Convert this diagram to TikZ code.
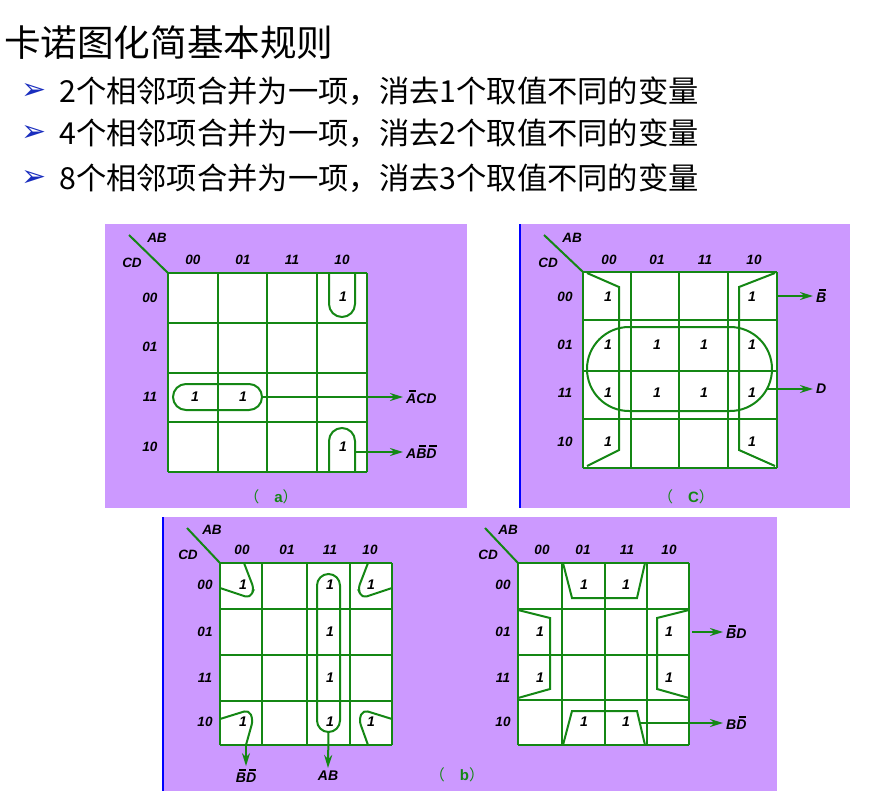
\documentclass[tikz,border=0pt]{standalone}
\usepackage{fontspec}
\setmainfont{Liberation Sans}
\newfontfamily\cjk{Noto Sans CJK SC}
\newfontfamily\bulfont{DejaVu Sans}
\usepackage{tikz}
\usetikzlibrary{arrows.meta}
\definecolor{kgreen}{RGB}{20,135,20}
\definecolor{kpurple}{RGB}{204,153,255}
\definecolor{kblue}{RGB}{25,45,190}
\newcommand{\ovl}[1]{\sbox0{#1}\rlap{\hspace{0.3\wd0}\raisebox{\dimexpr\ht0+2.5pt\relax}{\rule{0.7\wd0}{1.3pt}}}#1}
\tikzset{
	kline/.style={kgreen,line width=2.3pt},
	grp/.style={kgreen,line width=2pt},
	lbl/.style={font=\fontsize{13.5}{15}\selectfont\bfseries\itshape,inner sep=0pt},
	one/.style={font=\fontsize{14}{16}\selectfont\bfseries\itshape,inner sep=0pt},
	res/.style={font=\fontsize{14}{16}\selectfont\bfseries\itshape,inner sep=3pt},
	captext/.style={kgreen,font=\fontsize{15}{17}\selectfont\cjk,inner sep=0pt},
	arr/.style={kgreen,line width=2pt,-{Stealth[length=13pt,width=8pt]}},
	ruletext/.style={font=\fontsize{30.3}{34}\selectfont\cjk,anchor=west,inner sep=0pt},
	bul/.style={kblue,font=\fontsize{30}{32}\selectfont\bulfont,inner sep=0pt}
}
\begin{document}
\begin{tikzpicture}[x=1pt,y=-1pt]
		\useasboundingbox (0,0) rectangle (895,793);
		% title and rules
		\node[font=\fontsize{36.6}{40}\selectfont\cjk,anchor=west,inner sep=0pt] (title) at (4,43) {卡诺图化简基本规则};
		\node[bul] (b1) at (34,91) {➢};
		\node[bul] (b2) at (34,133) {➢};
		\node[bul] (b3) at (34,178) {➢};
		\node[ruletext] (r1) at (59,91) {2个相邻项合并为一项，消去1个取值不同的变量};
		\node[ruletext] (r2) at (59,133) {4个相邻项合并为一项，消去2个取值不同的变量};
		\node[ruletext] (r3) at (59,178) {8个相邻项合并为一项，消去3个取值不同的变量};
		% panels
		\fill[kpurple] (105,224) rectangle (467,508);
		\fill[kpurple] (521,224) rectangle (850,508);
		\fill[kpurple] (164,517) rectangle (777,791);
		\draw[blue,line width=1.5pt] (520,224) -- (520,508);
		\draw[blue,line width=1.5pt] (163,517) -- (163,791);
		% map (a)
		\fill[white] (168,273) rectangle (367,472);
		\foreach \x in {168,218,267,317,367} \draw[kline] (\x,273) -- (\x,472);
		\foreach \y in {273,323,373,422,472} \draw[kline] (168,\y) -- (367,\y);
		\draw[kline,line width=2pt] (129,235) -- (168,273);
		\node[lbl] (aAB) at (157,238) {AB};
		\node[lbl] (aCD) at (132,263) {CD};
		\foreach \x/\t in {193/00,243/01,292/11,342/10} \node[lbl] at (\x,260) {\t};
		\foreach \y/\t in {298/00,347/01,397/11,447/10} \node[lbl] at (150,\y) {\t};
		\node[one] (a1) at (343,297) {1};
		\node[one] (a2) at (195,397) {1};
		\node[one] (a3) at (243,397) {1};
		\node[one] (a4) at (343,447) {1};
		\draw[grp,rounded corners=13pt] (329,273) -- (329,317) -- (355,317) -- (355,273);
		\draw[grp,rounded corners=13pt] (329,472) -- (329,428) -- (355,428) -- (355,472);
		\draw[grp,rounded corners=13pt] (173,384) rectangle (262,410);
		\coordinate (aL1) at (262,397);
		\coordinate (aL2) at (355,452);
		\node[res,anchor=west] (acd) at (403,397) {\ovl{A}CD};
		\node[res,anchor=west] (abd) at (403,452) {A\ovl{B}\ovl{D}};
		\draw[arr] (aL1) -- (acd.west);
		\draw[arr] (aL2) -- (abd.west);
		\node[captext] (capa) at (271,497) {（　{\fontspec{Liberation Sans}\bfseries a}）};
		% map (c)
		\fill[white] (583,272) rectangle (777,468);
		\foreach \x in {583,631,679,728,777} \draw[kline] (\x,272) -- (\x,468);
		\foreach \y in {272,320,371,419,468} \draw[kline] (583,\y) -- (777,\y);
		\draw[kline,line width=2pt] (544,235) -- (583,272);
		\node[lbl] (cAB) at (572,238) {AB};
		\node[lbl] (cCD) at (548,263) {CD};
		\foreach \x/\t in {609/00,657/01,705/11,754/10} \node[lbl] at (\x,260) {\t};
		\foreach \y/\t in {297/00,345/01,393/11,442/10} \node[lbl] at (565,\y) {\t};
		\foreach \y in {297,345,393,442} {
			\node[one] at (608,\y) {1};
			\node[one] at (752,\y) {1};
		}
		\foreach \y in {345,393} {
			\node[one] at (657,\y) {1};
			\node[one] at (704,\y) {1};
		}
		\draw[grp] (587,273) -- (619,287) -- (619,450) -- (587,466);
		\draw[grp] (775,273) -- (739,287) -- (739,450) -- (775,466);
		\draw[grp,rounded corners=42pt] (587,327) rectangle (772,411);
		\coordinate (cL1) at (778,296);
		\coordinate (cL2) at (766,389);
		\node[res,anchor=west] (cb) at (813,296) {\ovl{B}};
		\node[res,anchor=west] (cd) at (813,389) {D};
		\draw[arr] (cL1) -- (cb.west);
		\draw[arr] (cL2) -- (cd.west);
		\node[captext] (capc) at (686,497) {（　{\fontspec{Liberation Sans}\bfseries C}）};
		% map (b) left
		\fill[white] (220,563) rectangle (392,745);
		\foreach \x in {220,262,307,350,392} \draw[kline] (\x,563) -- (\x,745);
		\foreach \y in {563,609,655,701,745} \draw[kline] (220,\y) -- (392,\y);
		\draw[kline,line width=2pt] (187,528) -- (220,563);
		\node[lbl] (lAB) at (212,530) {AB};
		\node[lbl] (lCD) at (188,555) {CD};
		\foreach \x/\t in {242/00,287/01,330/11,370/10} \node[lbl] at (\x,550) {\t};
		\foreach \y/\t in {585/00,632/01,678/11,722/10} \node[lbl] at (205,\y) {\t};
		\foreach \y in {585,632,678,722} \node[one] at (330,\y) {1};
		\foreach \y in {585,722} {
			\node[one] at (243,\y) {1};
			\node[one] at (371,\y) {1};
		}
		\draw[grp,rounded corners=5pt] (220,588) -- (250,598) -- (254,589) -- (244,563);
		\draw[grp,rounded corners=5pt] (392,588) -- (362,598) -- (358,589) -- (368,563);
		\draw[grp,rounded corners=5pt] (220,719) -- (249,710) -- (253,720) -- (246,745);
		\draw[grp,rounded corners=5pt] (392,719) -- (363,710) -- (359,720) -- (368,745);
		\draw[grp,rounded corners=11.5pt] (317,574) rectangle (340,732);
		\coordinate (lL1) at (246,745);
		\coordinate (lL2) at (328.5,732);
		\node[res] (lbd) at (246,776) {\ovl{B}\ovl{D}};
		\node[res] (lab) at (328,776) {AB};
		\draw[arr] (lL1) -- (lbd.north);
		\draw[arr] (lL2) -- (lab.north);
		\node[captext] (capb) at (457,775) {（　{\fontspec{Liberation Sans}\bfseries b}）};
		% map (b) right
		\fill[white] (518,563) rectangle (689,745);
		\foreach \x in {518,562,605,647,689} \draw[kline] (\x,563) -- (\x,745);
		\foreach \y in {563,609,655,700,745} \draw[kline] (518,\y) -- (689,\y);
		\draw[kline,line width=2pt] (485,528) -- (518,563);
		\node[lbl] (rAB) at (508,530) {AB};
		\node[lbl] (rCD) at (488,555) {CD};
		\foreach \x/\t in {542/00,583/01,627/11,669/10} \node[lbl] at (\x,550) {\t};
		\foreach \y/\t in {585/00,632/01,678/11,722/10} \node[lbl] at (503,\y) {\t};
		\foreach \x in {584,626} {
			\node[one] at (\x,585) {1};
			\node[one] at (\x,722) {1};
		}
		\foreach \y in {632,678} {
			\node[one] at (540,\y) {1};
			\node[one] at (669,\y) {1};
		}
		\draw[grp] (563,563) -- (572,598) -- (637,598) -- (645,563);
		\draw[grp] (563,745) -- (572,711) -- (637,711) -- (645,745);
		\draw[grp] (518,610) -- (550,618) -- (550,689) -- (518,698);
		\draw[grp] (689,610) -- (657,618) -- (657,689) -- (689,698);
		\coordinate (rL1) at (692,632);
		\coordinate (rL2) at (640,723);
		\node[res,anchor=west] (rbd1) at (723,632) {\ovl{B}D};
		\node[res,anchor=west] (rbd2) at (723,723) {B\ovl{D}};
		\draw[arr] (rL1) -- (rbd1.west);
		\draw[arr] (rL2) -- (rbd2.west);
		\end{tikzpicture}
\end{document}
